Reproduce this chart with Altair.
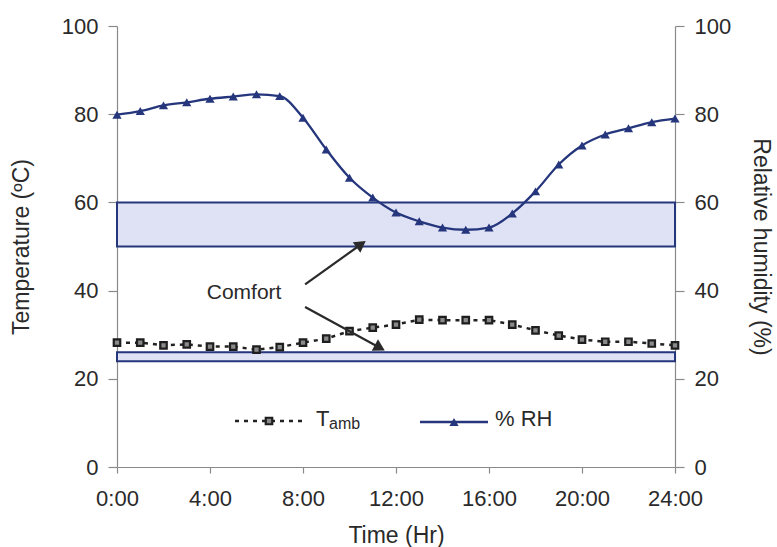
import math
import altair as alt
import pandas as pd

# ---------------- data ----------------
hours = list(range(25))
t_amb = [28.2, 28.2, 27.6, 27.8, 27.3, 27.3, 26.6, 27.2, 28.2, 29.1, 30.8, 31.6, 32.3,
         33.4, 33.3, 33.3, 33.3, 32.3, 31.0, 29.8, 28.9, 28.4, 28.4, 28.0, 27.6]
rh = [79.9, 80.7, 82.0, 82.7, 83.5, 84.0, 84.5, 84.1, 79.2, 72.0, 65.6, 61.1, 57.7,
      55.7, 54.3, 53.8, 54.3, 57.5, 62.5, 68.6, 72.9, 75.4, 76.8, 78.2, 79.0]

band_names = ["RH comfort", "Temperature comfort"]
band_low = [50, 24]
band_high = [60, 26]
band_start = [0, 0]
band_end = [24, 24]

x_tick_values = [0, 4, 8, 12, 16, 20, 24]
x_tick_labels = ["0:00", "4:00", "8:00", "12:00", "16:00", "20:00", "24:00"]
y_tick_values = [0, 20, 40, 60, 80, 100]

comfort_label = ["Comfort"]
comfort_x = [3.86]
comfort_y = [38.1]

arrow_start_x = [8.09, 8.09]
arrow_start_y = [41.4, 36.3]
arrow_tip_x = [10.71, 11.53]
arrow_tip_y = [51.3, 26.4]

# ---------------- styling ----------------
FONT = "Liberation Sans"
TXT = "#2a2a2a"
NAVY = "#25367c"
AXC = "#8a8a8a"
PX_PER_HR = 558 / 24.0
PX_PER_UNIT = 441.5 / 100.0

df = pd.DataFrame({"hour": hours, "tamb": t_amb, "rh": rh})
bands = pd.DataFrame({"name": band_names, "x": band_start, "x2": band_end,
                      "lo": band_low, "hi": band_high})

label_expr = " : ".join(
    f"datum.value == {v} ? '{l}'" for v, l in zip(x_tick_values, x_tick_labels)
) + " : ''"

xscale = alt.Scale(domain=[0, 24], nice=False, zero=False)
yscale = alt.Scale(domain=[0, 100], nice=False)

x_axis = alt.Axis(values=x_tick_values, labelExpr=label_expr, title="Time (Hr)",
                  grid=False, tickSize=6, labelPadding=15, titlePadding=15,
                  labelFlush=False, labelOverlap=False, labelBound=False,
                  domainColor=AXC, tickColor=AXC)
X = alt.X("hour:Q", scale=xscale, axis=x_axis)

left_axis = alt.Axis(values=y_tick_values, title="Temperature (ºC)", grid=False,
                     tickSize=9, labelPadding=10, titlePadding=28,
                     labelFlush=False, labelOverlap=False,
                     domainColor=AXC, tickColor=AXC)
right_axis = alt.Axis(values=y_tick_values, title="Relative humidity (%)", grid=False,
                      orient="right", tickSize=9, labelPadding=10, titlePadding=18,
                      labelFlush=False, labelOverlap=False,
                      domainColor=AXC, tickColor=AXC)

# comfort bands (drawn on left scale; both axes share 0-100)
band_layer = alt.Chart(bands).mark_rect(
    fill="#dfe2f5", stroke=NAVY, strokeWidth=2
).encode(
    x=alt.X("x:Q", scale=xscale, axis=x_axis),
    x2="x2:Q",
    y=alt.Y("lo:Q", scale=yscale, axis=left_axis),
    y2="hi:Q",
)

tamb_line = alt.Chart(df).mark_line(
    color="#222222", strokeWidth=2.5, strokeDash=[4, 5]
).encode(x=X, y=alt.Y("tamb:Q", scale=yscale, axis=left_axis))

tamb_pts = alt.Chart(df).mark_point(
    shape="square", size=42, filled=True, fill="#8a8a8a", stroke="#1e1e1e",
    strokeWidth=2.2, opacity=1
).encode(x=X, y=alt.Y("tamb:Q", scale=yscale, axis=left_axis))

# annotation: Comfort text and arrows
ctext = alt.Chart(pd.DataFrame({"t": comfort_label, "x": comfort_x, "y": comfort_y})).mark_text(
    align="left", baseline="alphabetic", font=FONT, fontSize=21, color=TXT
).encode(x=alt.X("x:Q", scale=xscale, axis=x_axis),
         y=alt.Y("y:Q", scale=yscale, axis=left_axis), text="t:N")

heads_x, heads_y, heads_ang = [], [], []
for sx, sy, tx, ty in zip(arrow_start_x, arrow_start_y, arrow_tip_x, arrow_tip_y):
    dxp = (tx - sx) * PX_PER_HR
    dyp = -(ty - sy) * PX_PER_UNIT
    L = math.hypot(dxp, dyp)
    ux, uy = dxp / L, dyp / L
    back = 6.0
    heads_x.append(tx - ux * back / PX_PER_HR)
    heads_y.append(ty + uy * back / PX_PER_UNIT)
    heads_ang.append(math.degrees(math.atan2(ux, -uy)))

arrows = pd.DataFrame({"x": arrow_start_x, "y": arrow_start_y,
                       "x2": heads_x, "y2": heads_y,
                       "hx": heads_x, "hy": heads_y, "ang": heads_ang})

arrow_lines = alt.Chart(arrows).mark_rule(color="#2a2a2a", strokeWidth=2.2).encode(
    x=alt.X("x:Q", scale=xscale, axis=x_axis),
    y=alt.Y("y:Q", scale=yscale, axis=left_axis),
    x2="x2:Q", y2="y2:Q")

arrow_heads = alt.Chart(arrows).mark_point(
    shape="triangle-up", size=170, filled=True, color="#2a2a2a", opacity=1
).encode(
    x=alt.X("hx:Q", scale=xscale, axis=x_axis),
    y=alt.Y("hy:Q", scale=yscale, axis=left_axis),
    angle=alt.Angle("ang:Q", scale=None))

left_group = alt.layer(band_layer, tamb_line, tamb_pts, ctext, arrow_lines, arrow_heads)

# RH on right axis
rh_line = alt.Chart(df).mark_line(color=NAVY, strokeWidth=2.3, interpolate="monotone").encode(
    x=X, y=alt.Y("rh:Q", scale=yscale, axis=right_axis))
rh_pts = alt.Chart(df).mark_point(
    shape="triangle-up", size=85, filled=True, color=NAVY, opacity=1
).encode(x=X, y=alt.Y("rh:Q", scale=yscale, axis=right_axis))

right_group = alt.layer(rh_line, rh_pts)

# manual legend (pixel layout inside plot area)
leg_y1 = 395
leg_y2 = 396
lg_tamb_line = alt.Chart(pd.DataFrame({"k": [1]})).mark_rule(
    color="#222222", strokeWidth=2.5, strokeDash=[4, 5]).encode(
    x=alt.value(118), x2=alt.value(189), y=alt.value(leg_y1))
lg_tamb_pt = alt.Chart(pd.DataFrame({"k": [1]})).mark_point(
    shape="square", size=42, filled=True, fill="#8a8a8a", stroke="#1e1e1e",
    strokeWidth=2.2, opacity=1).encode(x=alt.value(152), y=alt.value(leg_y1))
lg_T = alt.Chart(pd.DataFrame({"t": ["T"]})).mark_text(
    align="left", baseline="alphabetic", font=FONT, fontSize=22, color=TXT
).encode(x=alt.value(199), y=alt.value(400), text="t:N")
lg_amb = alt.Chart(pd.DataFrame({"t": ["amb"]})).mark_text(
    align="left", baseline="alphabetic", font=FONT, fontSize=16, color=TXT
).encode(x=alt.value(212), y=alt.value(403), text="t:N")
lg_rh_line = alt.Chart(pd.DataFrame({"k": [1]})).mark_rule(color=NAVY, strokeWidth=2.3).encode(
    x=alt.value(303), x2=alt.value(371), y=alt.value(leg_y2))
lg_rh_pt = alt.Chart(pd.DataFrame({"k": [1]})).mark_point(
    shape="triangle-up", size=85, filled=True, color=NAVY, opacity=1
).encode(x=alt.value(337), y=alt.value(leg_y2))
lg_rh_txt = alt.Chart(pd.DataFrame({"t": ["% RH"]})).mark_text(
    align="left", baseline="alphabetic", font=FONT, fontSize=22, color=TXT
).encode(x=alt.value(378), y=alt.value(400), text="t:N")

legend_group = alt.layer(lg_tamb_line, lg_tamb_pt, lg_T, lg_amb, lg_rh_line, lg_rh_pt, lg_rh_txt)

chart = alt.layer(left_group, right_group, legend_group).resolve_scale(
    y="independent"
).properties(
    width=558, height=441,
    autosize=alt.AutoSizeParams(type="none"),
    padding={"left": 117, "top": 26, "right": 102, "bottom": 80},
    background="white",
).configure_view(stroke=None).configure_axis(
    labelFont=FONT, titleFont=FONT, labelFontSize=22, titleFontSize=23,
    labelColor=TXT, titleColor=TXT, titleFontWeight="normal", domainWidth=1.2,
    tickWidth=1.2,
)

chart.save("out.html", embed_options={"renderer": "svg", "actions": False})
